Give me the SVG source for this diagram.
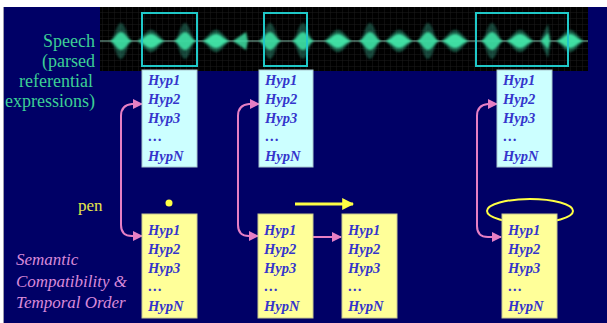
<svg xmlns="http://www.w3.org/2000/svg" width="607" height="323" viewBox="0 0 607 323">
<defs>
<style>
text{font-family:'Liberation Serif','DejaVu Serif','Times New Roman',serif}
.hyp{font-weight:bold;font-style:italic;font-size:14.5px;fill:#3535cc}
.lbl{font-size:18px;fill:#3ccf95;text-anchor:end}
.pink{font-style:italic;font-size:17px;fill:#d98ad9}
.pen{font-size:17px;fill:#e6e64a}
.top{fill:#ccffff;stroke:#a8c8d0;stroke-width:1}
.bot{fill:#ffff99;stroke:#c8c890;stroke-width:1}
.sel{fill:none;stroke:#1fc8c8;stroke-width:2}
.conn{fill:none;stroke:#e67fc4;stroke-width:2}
</style>
<pattern id="grid" width="6" height="6" patternUnits="userSpaceOnUse">
<path d="M6 0 L0 0 0 6" fill="none" stroke="#1c1c1c" stroke-width="1"/>
</pattern>
<filter id="soft" x="-50%" y="-50%" width="200%" height="200%">
<feGaussianBlur stdDeviation="1.2"/>
</filter>
<marker id="pa" viewBox="0 0 10 10" refX="9" refY="5" markerWidth="5" markerHeight="5" orient="auto-start-reverse">
<path d="M0 0 L10 5 L0 10 Z" fill="#e67fc4"/>
</marker>
<marker id="ya" viewBox="0 0 10 10" refX="9" refY="5" markerWidth="4" markerHeight="4" orient="auto">
<path d="M0 0 L10 5 L0 10 Z" fill="#ffff44"/>
</marker>
<g id="tall">
<path d="M-11 0 C-6 -3 -5 -17 0 -18 C5 -17 6 -3 11 0 C6 3 5 17 0 18 C-5 17 -6 3 -11 0 Z" fill="#2a8a70" opacity="0.5"/>
<path d="M-11 0 C-6 -2 -5 -8 0 -9 C5 -8 6 -2 11 0 C6 2 5 8 0 9 C-5 8 -6 2 -11 0 Z" fill="#3ee0a4" opacity="0.9"/>
</g>
<g id="med">
<path d="M-14 0 C-8 -4 -5 -11 0 -11 C5 -11 8 -4 14 0 C8 4 5 11 0 11 C-5 11 -8 4 -14 0 Z" fill="#2a9a78" opacity="0.55"/>
<path d="M-13 0 C-7 -2 -5 -7 0 -7 C5 -7 7 -2 13 0 C7 2 5 7 0 7 C-5 7 -7 2 -13 0 Z" fill="#40e6a8" opacity="0.95"/>
</g>
</defs>
<rect x="0" y="0" width="607" height="323" fill="#ffffff"/>
<rect x="3" y="7" width="604" height="316" fill="#000066"/>
<rect x="3" y="7" width="1" height="316" fill="#9a9ab0"/>
<g id="waveform">
<rect x="100" y="7" width="488" height="64" fill="#000000"/>
<rect x="100" y="7" width="488" height="64" fill="url(#grid)"/>
<line x1="100" y1="41" x2="588" y2="41" stroke="#7fb8a4" stroke-width="1.2"/>
<g filter="url(#soft)">
<use href="#tall" x="121" y="41"/>
<use href="#med" x="151" y="41"/>
<use href="#tall" x="185" y="41"/>
<use href="#med" x="216" y="41"/>
<path d="M233 41 L246 32 L248 41 L246 50 Z" fill="#3ee0a4" opacity="0.85"/>
<use href="#tall" x="270" y="41"/>
<use href="#tall" x="303" y="41"/>
<use href="#med" x="338" y="41"/>
<use href="#tall" x="370" y="41"/>
<use href="#med" x="399" y="41"/>
<use href="#tall" x="428" y="41"/>
<use href="#med" x="455" y="41"/>
<use href="#tall" x="492" y="41"/>
<use href="#med" x="520" y="41"/>
<path d="M540 41 L548 24 L551 41 L548 58 Z" fill="#2a8a70" opacity="0.6"/>
<path d="M541 41 L548 33 L550 41 L548 49 Z" fill="#3ee0a4" opacity="0.9"/>
<use href="#med" x="570" y="41"/>
</g>
<rect class="sel" x="142" y="13" width="55" height="53"/>
<rect class="sel" x="264" y="13" width="43" height="53"/>
<rect class="sel" x="476" y="13" width="92" height="53"/>
</g>
<g id="speech-label">
<text class="lbl" x="95" y="47">Speech</text>
<text class="lbl" x="95" y="67">(parsed</text>
<text class="lbl" x="93" y="87">referential</text>
<text class="lbl" x="95" y="107">expressions)</text>
</g>
<g id="pen-label"><text class="pen" x="78" y="211">pen</text></g>
<g id="semantic-label">
<text class="pink" x="16" y="265">Semantic</text>
<text class="pink" x="16" y="287">Compatibility &amp;</text>
<text class="pink" x="16" y="308">Temporal Order</text>
</g>
<g id="gestures">
<circle cx="169" cy="203" r="3.5" fill="#ffff44"/>
<line x1="295" y1="204" x2="353" y2="204" stroke="#ffff44" stroke-width="3" marker-end="url(#ya)"/>
<ellipse cx="530" cy="211" rx="43" ry="12" fill="none" stroke="#ffff44" stroke-width="2"/>
</g>
<g id="connectors">
<path class="conn" d="M142 236 L132 236 Q121 236 121 225 L121 116 Q121 105 132 104 L142 104" marker-start="url(#pa)" marker-end="url(#pa)"/>
<path class="conn" d="M258 236 L249 236 Q238 236 238 225 L238 116 Q238 105 249 104 L259 104" marker-start="url(#pa)" marker-end="url(#pa)"/>
<path class="conn" d="M501 237 L488 237 Q477 237 477 226 L477 116 Q477 105 488 104 L497 104" marker-start="url(#pa)" marker-end="url(#pa)"/>
<path class="conn" d="M313 237 L341 237" marker-end="url(#pa)"/>
</g>
<g id="top1">
<rect class="top" x="142" y="70" width="55" height="97"/>
<text class="hyp" x="148" y="85">Hyp1</text><text class="hyp" x="148" y="104">Hyp2</text><text class="hyp" x="148" y="123">Hyp3</text><text class="hyp" x="148" y="141">…</text><text class="hyp" x="148" y="161">HypN</text>
</g>
<g id="top2">
<rect class="top" x="259" y="70" width="54" height="97"/>
<text class="hyp" x="265" y="85">Hyp1</text><text class="hyp" x="265" y="104">Hyp2</text><text class="hyp" x="265" y="123">Hyp3</text><text class="hyp" x="265" y="141">…</text><text class="hyp" x="265" y="161">HypN</text>
</g>
<g id="top3">
<rect class="top" x="497" y="70" width="55" height="97"/>
<text class="hyp" x="503" y="85">Hyp1</text><text class="hyp" x="503" y="104">Hyp2</text><text class="hyp" x="503" y="123">Hyp3</text><text class="hyp" x="503" y="141">…</text><text class="hyp" x="503" y="161">HypN</text>
</g>
<g id="bot1">
<rect class="bot" x="142" y="214" width="55" height="104"/>
<text class="hyp" x="148" y="235">Hyp1</text><text class="hyp" x="148" y="254">Hyp2</text><text class="hyp" x="148" y="273">Hyp3</text><text class="hyp" x="148" y="291">…</text><text class="hyp" x="148" y="311">HypN</text>
</g>
<g id="bot2">
<rect class="bot" x="258" y="214" width="55" height="104"/>
<text class="hyp" x="264" y="235">Hyp1</text><text class="hyp" x="264" y="254">Hyp2</text><text class="hyp" x="264" y="273">Hyp3</text><text class="hyp" x="264" y="291">…</text><text class="hyp" x="264" y="311">HypN</text>
</g>
<g id="bot3">
<rect class="bot" x="342" y="214" width="55" height="104"/>
<text class="hyp" x="348" y="235">Hyp1</text><text class="hyp" x="348" y="254">Hyp2</text><text class="hyp" x="348" y="273">Hyp3</text><text class="hyp" x="348" y="291">…</text><text class="hyp" x="348" y="311">HypN</text>
</g>
<g id="bot4">
<rect class="bot" x="502" y="214" width="55" height="104"/>
<text class="hyp" x="508" y="235">Hyp1</text><text class="hyp" x="508" y="254">Hyp2</text><text class="hyp" x="508" y="273">Hyp3</text><text class="hyp" x="508" y="291">…</text><text class="hyp" x="508" y="311">HypN</text>
</g>
</svg>
